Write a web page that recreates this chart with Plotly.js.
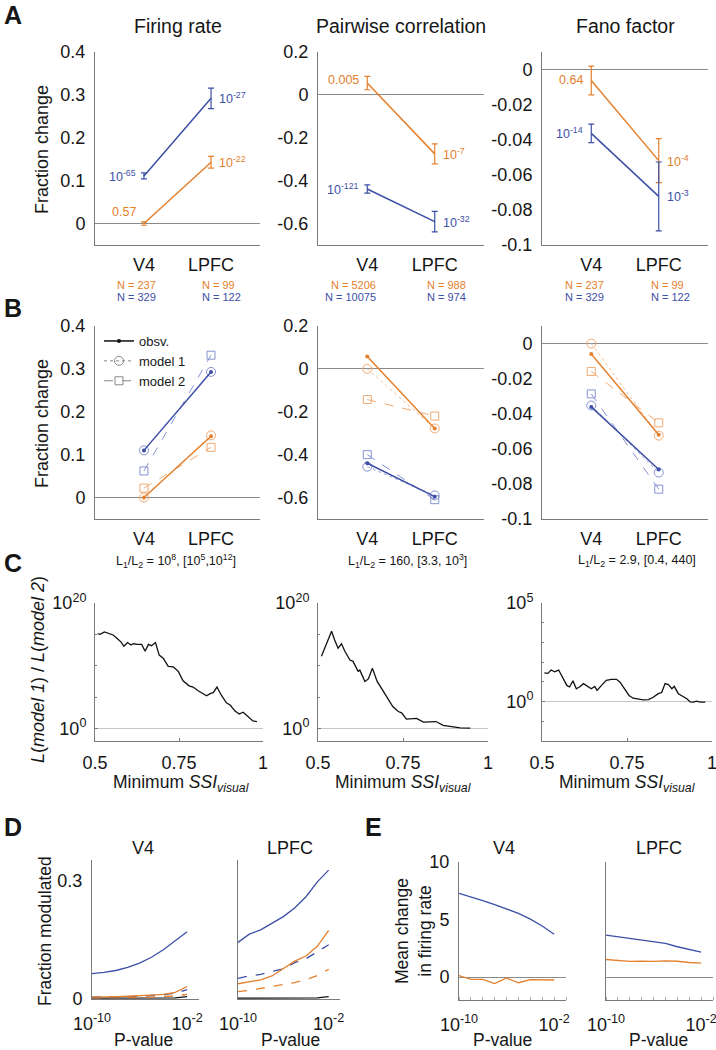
<!DOCTYPE html>
<html>
<head>
<meta charset="utf-8">
<script src="https://cdn.plot.ly/plotly-3.0.1.min.js"></script>
<style>html,body{margin:0;padding:0;background:#fff;}#chart{width:716px;height:1050px;}</style>
</head>
<body>
<div id="chart"></div>
<script>
// ---------------- DATA ----------------
const regions = ['V4', 'LPFC'];

// Panel A: fraction change (mean, s.e.)
const frBlue = [0.111, 0.292], frBlueErr = [0.007, 0.024];
const frOrange = [0.0, 0.143], frOrangeErr = [0.004, 0.0137];
const pcBlue = [-0.439, -0.591], pcBlueErr = [0.019, 0.048];
const pcOrange = [0.055, -0.275], pcOrangeErr = [0.031, 0.0465];
const ffBlue = [-0.0364, -0.0723], ffBlueErr = [0.0053, 0.0196];
const ffOrange = [-0.0062, -0.0519], ffOrangeErr = [0.0082, 0.0125];

// Panel A p-value labels
const frPBlue = ['10<sup>-65</sup>', '10<sup>-27</sup>'];
const frPOrange = ['0.57', '10<sup>-22</sup>'];
const pcPBlue = ['10<sup>-121</sup>', '10<sup>-32</sup>'];
const pcPOrange = ['0.005', '10<sup>-7</sup>'];
const ffPBlue = ['10<sup>-14</sup>', '10<sup>-3</sup>'];
const ffPOrange = ['0.64', '10<sup>-4</sup>'];

// N labels
const frNOrange = ['N = 237', 'N = 99'], frNBlue = ['N = 329', 'N = 122'];
const pcNOrange = ['N = 5206', 'N = 988'], pcNBlue = ['N = 10075', 'N = 974'];
const ffNOrange = ['N = 237', 'N = 99'], ffNBlue = ['N = 329', 'N = 122'];

// Panel B: observed vs model predictions
const frObsBlue = [0.110, 0.293], frObsOrange = [0.0, 0.143];
const frM1Blue = [0.110, 0.293], frM1Orange = [0.0, 0.145];
const frM2Blue = [0.062, 0.332], frM2Orange = [0.022, 0.117];
const pcObsBlue = [-0.440, -0.596], pcObsOrange = [0.058, -0.278];
const pcM1Blue = [-0.456, -0.590], pcM1Orange = [0.0, -0.278];
const pcM2Blue = [-0.400, -0.610], pcM2Orange = [-0.143, -0.220];
const ffObsBlue = [-0.0361, -0.0718], ffObsOrange = [-0.0059, -0.0520];
const ffM1Blue = [-0.0353, -0.0735], ffM1Orange = [0.0, -0.0525];
const ffM2Blue = [-0.0287, -0.0830], ffM2Orange = [-0.0159, -0.0452];

const ratioLabels = ['L<sub>1</sub>/L<sub>2</sub> = 10<sup>8</sup>, [10<sup>5</sup>,10<sup>12</sup>]',
                     'L<sub>1</sub>/L<sub>2</sub> = 160, [3.3, 10<sup>3</sup>]',
                     'L<sub>1</sub>/L<sub>2</sub> = 2.9, [0.4, 440]'];

// Panel C: likelihood ratio (log10) vs minimum SSI
const ssiC1 = [0.508,0.515,0.528,0.540,0.554,0.566,0.577,0.586,0.597,0.607,0.614,0.626,0.639,0.649,0.659,0.668,0.680,0.691,0.703,0.718,0.733,0.748,0.762,0.780,0.792,0.807,0.820,0.832,0.844,0.852,0.863,0.876,0.891,0.903,0.916,0.929,0.941,0.955,0.970,0.982];
const lrC1Log10 = [15.1,15.0,15.4,15.2,14.9,14.35,13.8,13.1,13.7,13.3,13.5,13.4,13.4,12.3,13.4,13.2,13.7,11.7,11.2,9.9,9.8,9.1,7.6,6.8,6.6,6.0,5.6,5.2,5.6,5.7,6.6,5.3,4.1,3.7,2.8,2.3,2.6,1.9,1.2,1.1];
const ssiC2 = [0.510,0.540,0.549,0.559,0.569,0.579,0.594,0.603,0.618,0.623,0.638,0.648,0.660,0.674,0.690,0.707,0.720,0.736,0.746,0.760,0.780,0.790,0.810,0.830,0.847,0.868,0.897,0.918,0.948];
const lrC2Log10 = [11.5,15.5,14.1,12.8,13.5,12.3,10.9,10.7,9.1,9.3,7.5,7.9,9.6,7.5,6.1,4.5,3.5,2.7,2.5,1.5,1.5,1.6,1.0,1.0,1.1,0.5,0.3,0.1,0.05];
const ssiC3 = [0.507,0.517,0.527,0.537,0.549,0.561,0.573,0.581,0.591,0.601,0.610,0.622,0.635,0.645,0.655,0.662,0.675,0.689,0.704,0.719,0.729,0.744,0.756,0.768,0.783,0.798,0.813,0.827,0.842,0.852,0.862,0.872,0.882,0.889,0.901,0.914,0.926,0.936,0.946,0.954,0.966,0.980];
const lrC3Log10 = [1.46,1.43,1.60,1.51,1.60,1.17,0.82,0.74,1.05,0.65,0.74,0.91,0.74,0.65,0.77,0.57,0.82,1.08,1.13,1.13,1.00,0.60,0.31,0.17,0.14,0.09,0.10,0.22,0.40,0.46,0.91,0.86,0.65,0.77,0.40,0.26,0.14,-0.02,-0.03,0.02,-0.03,-0.03];

// Panels D/E: p-value thresholds
const pVals = [1e-10,1e-9,1e-8,1e-7,1e-6,1e-5,1e-4,1e-3,1e-2];
const dV4Blue = [0.063,0.066,0.071,0.079,0.090,0.105,0.124,0.146,0.170];
const dV4Orange = [0.003,0.003,0.004,0.005,0.006,0.008,0.010,0.015,0.030];
const dV4BlueDash = [0.003,0.003,0.004,0.004,0.005,0.007,0.009,0.013,0.022];
const dV4OrangeDash = [0.001,0.001,0.001,0.002,0.002,0.003,0.004,0.006,0.010];
const dV4Black = [0,0,0,0,0,0,0,0.001,0.004];
const dPFCBlue = [0.143,0.164,0.175,0.192,0.209,0.231,0.260,0.298,0.328];
const dPFCOrange = [0.037,0.042,0.047,0.057,0.075,0.095,0.108,0.133,0.174];
const dPFCBlueDash = [0.051,0.057,0.061,0.069,0.075,0.091,0.101,0.118,0.137];
const dPFCOrangeDash = [0.017,0.020,0.025,0.030,0.034,0.040,0.048,0.058,0.074];
const dPFCBlack = [0,0,0,0,0,0,0,0.001,0.004];
const eV4Blue = [7.28,6.99,6.64,6.29,5.90,5.53,5.03,4.44,3.71];
const eV4Orange = [0.12,-0.20,-0.20,-0.58,-0.09,-0.50,-0.23,-0.23,-0.26];
const ePFCBlue = [3.65,3.50,3.36,3.22,3.07,2.92,2.63,2.40,2.16];
const ePFCOrange = [1.52,1.43,1.35,1.37,1.35,1.40,1.37,1.26,1.20];

// tick labels
const frTicks = [0,0.1,0.2,0.3,0.4], frTickText = ['0','0.1','0.2','0.3','0.4'];
const pcTicks = [0.2,0,-0.2,-0.4,-0.6], pcTickText = ['0.2','0','-0.2','-0.4','-0.6'];
const ffTicks = [0,-0.02,-0.04,-0.06,-0.08,-0.1], ffTickText = ['0','-0.02','-0.04','-0.06','-0.08','-0.1'];
const cYTicks12 = [1,1e20], cYText12 = ['10<sup>0</sup>','10<sup>20</sup>'];
const cYTicks3 = [1,1e5], cYText3 = ['10<sup>0</sup>','10<sup>5</sup>'];
const cXTicks = [0.5,0.75,1], cXText = ['0.5','0.75','1'];
const pTicks = [1e-10,1e-2], pTickText = ['10<sup>-10</sup>','10<sup>-2</sup>'];
const dYTicks = [0,0.3], dYText = ['0','0.3'];
const eYTicks = [0,5,10], eYText = ['0','5','10'];

// ---------------- STYLE ----------------
const W = 716, H = 1050;
const BLUE = '#3d4fa6', ORANGE = '#e5802d', LBLUE = '#8592d2', LORANGE = '#f1aa72';
const AX = '#7a7a7a', ZL = '#8a8a8a', TXT = '#161616';
const FONT = 'Liberation Sans, Arial, Helvetica, sans-serif';
const PX = x => x / W, PY = y => 1 - y / H;
const domX = (a, b) => [a / W, b / W];
const domY = (t, b) => [1 - b / H, 1 - t / H];

const traces = [];
function lineErr(xa, ya, y, err, color) {
  traces.push({x: regions, y: y, xaxis: xa, yaxis: ya, type: 'scatter', mode: 'lines',
    line: {color: color, width: 1.5}, showlegend: false, hoverinfo: 'skip',
    error_y: {type: 'data', array: err, visible: true, color: color, thickness: 1.2, width: 3}});
}
lineErr('x','y',frOrange,frOrangeErr,ORANGE); lineErr('x','y',frBlue,frBlueErr,BLUE);
lineErr('x2','y2',pcOrange,pcOrangeErr,ORANGE); lineErr('x2','y2',pcBlue,pcBlueErr,BLUE);
lineErr('x3','y3',ffOrange,ffOrangeErr,ORANGE); lineErr('x3','y3',ffBlue,ffBlueErr,BLUE);

function modelSet(xa, ya, obs, m1, m2, color, light) {
  traces.push({x: regions, y: m2, xaxis: xa, yaxis: ya, mode: 'lines+markers', showlegend: false, hoverinfo: 'skip',
    line: {color: light, width: 1, dash: 'dash'}, marker: {symbol: 'square-open', size: 8, color: light, line: {width: 1}}});
  traces.push({x: regions, y: m1, xaxis: xa, yaxis: ya, mode: 'lines+markers', showlegend: false, hoverinfo: 'skip',
    line: {color: light, width: 0.8, dash: 'dot'}, marker: {symbol: 'circle-open', size: 9, color: light, line: {width: 1}}});
  traces.push({x: regions, y: obs, xaxis: xa, yaxis: ya, mode: 'lines+markers', showlegend: false, hoverinfo: 'skip',
    line: {color: color, width: 1.5}, marker: {symbol: 'circle', size: 4, color: color}});
}
modelSet('x4','y4',frObsOrange,frM1Orange,frM2Orange,ORANGE,LORANGE);
modelSet('x4','y4',frObsBlue,frM1Blue,frM2Blue,BLUE,LBLUE);
modelSet('x5','y5',pcObsOrange,pcM1Orange,pcM2Orange,ORANGE,LORANGE);
modelSet('x5','y5',pcObsBlue,pcM1Blue,pcM2Blue,BLUE,LBLUE);
modelSet('x6','y6',ffObsOrange,ffM1Orange,ffM2Orange,ORANGE,LORANGE);
modelSet('x6','y6',ffObsBlue,ffM1Blue,ffM2Blue,BLUE,LBLUE);

// legend entries for panel B
traces.push({x:[null], y:[null], xaxis:'x4', yaxis:'y4', name:'obsv.', mode:'lines+markers',
  line:{color:'#111', width:1.5}, marker:{size:4, color:'#111'}});
traces.push({x:[null], y:[null], xaxis:'x4', yaxis:'y4', name:'model 1', mode:'lines+markers',
  line:{color:'#888', width:1, dash:'dot'}, marker:{symbol:'circle-open', size:9, color:'#888'}});
traces.push({x:[null], y:[null], xaxis:'x4', yaxis:'y4', name:'model 2', mode:'lines+markers',
  line:{color:'#888', width:1, dash:'dash'}, marker:{symbol:'square-open', size:8, color:'#888'}});

function curve(xa, ya, x, y, color, dash, w) {
  traces.push({x: x, y: y, xaxis: xa, yaxis: ya, mode: 'lines', showlegend: false, hoverinfo: 'skip',
    line: {color: color, width: w || 1.3, dash: dash || 'solid'}});
}
curve('x7','y7',ssiC1,lrC1Log10.map(v => Math.pow(10, v)),'#111');
curve('x8','y8',ssiC2,lrC2Log10.map(v => Math.pow(10, v)),'#111');
curve('x9','y9',ssiC3,lrC3Log10.map(v => Math.pow(10, v)),'#111');

curve('x10','y10',pVals,dV4Black,'#111');
curve('x10','y10',pVals,dV4OrangeDash,ORANGE,'dash');
curve('x10','y10',pVals,dV4BlueDash,BLUE,'dash');
curve('x10','y10',pVals,dV4Orange,ORANGE);
curve('x10','y10',pVals,dV4Blue,BLUE);
curve('x11','y11',pVals,dPFCBlack,'#111');
curve('x11','y11',pVals,dPFCOrangeDash,ORANGE,'dash');
curve('x11','y11',pVals,dPFCBlueDash,BLUE,'dash');
curve('x11','y11',pVals,dPFCOrange,ORANGE);
curve('x11','y11',pVals,dPFCBlue,BLUE);

curve('x12','y12',pVals,eV4Orange,ORANGE);
curve('x12','y12',pVals,eV4Blue,BLUE);
curve('x13','y13',pVals,ePFCOrange,ORANGE);
curve('x13','y13',pVals,ePFCBlue,BLUE);

// ---------------- AXES ----------------
const baseAx = {showline: true, linecolor: AX, linewidth: 1, ticks: '', showgrid: false, zeroline: false,
  tickfont: {size: 18, color: TXT, family: FONT}, fixedrange: true, ticklabeloverflow: 'allow'};
const layout = {
  width: W, height: H, margin: {l: 0, r: 0, t: 0, b: 0}, paper_bgcolor: '#fff', plot_bgcolor: 'rgba(0,0,0,0)',
  font: {family: FONT, color: TXT},
  showlegend: true,
  legend: {x: PX(99), y: PY(326), xanchor: 'left', yanchor: 'top', bgcolor: 'rgba(0,0,0,0)',
    font: {size: 13, color: TXT}, itemwidth: 30, tracegroupgap: 0},
  annotations: [], shapes: []
};
function catX(name, anchor, a, b) {
  layout[name] = Object.assign({}, baseAx, {domain: domX(a, b), anchor: anchor, type: 'category',
    categoryorder: 'array', categoryarray: regions, range: [-0.73, 1.73], ticklabelstandoff: 3});
}
function linY(name, anchor, t, b, range, tv, tt, extra) {
  layout[name] = Object.assign({}, baseAx, {domain: domY(t, b), anchor: anchor, range: range,
    tickmode: 'array', tickvals: tv, ticktext: tt, ticklabelstandoff: 5}, extra || {});
}
const zl = {zeroline: true, zerolinecolor: ZL, zerolinewidth: 1};
catX('xaxis','y',95,260); linY('yaxis','x',52,245,[-0.05,0.4],frTicks,frTickText,zl);
catX('xaxis2','y2',318,484); linY('yaxis2','x2',52,245,[-0.7,0.2],pcTicks,pcTickText,zl);
catX('xaxis3','y3',542,708); linY('yaxis3','x3',52,245,[-0.1,0.01],ffTicks,ffTickText,zl);
catX('xaxis4','y4',95,260); linY('yaxis4','x4',326,519,[-0.05,0.4],frTicks,frTickText,zl);
catX('xaxis5','y5',318,484); linY('yaxis5','x5',326,519,[-0.7,0.2],pcTicks,pcTickText,zl);
catX('xaxis6','y6',542,708); linY('yaxis6','x6',326,519,[-0.1,0.01],ffTicks,ffTickText,zl);

function cAxes(n, a, b, yr, tv, tt, mdt) {
  layout['xaxis' + n] = Object.assign({}, baseAx, {domain: domX(a, b), anchor: 'y' + n, range: [0.5, 1],
    tickmode: 'array', tickvals: cXTicks, ticktext: cXText, ticks: 'inside', ticklen: 3, tickcolor: AX, ticklabelstandoff: 5});
  layout['yaxis' + n] = Object.assign({}, baseAx, {domain: domY(603, 741), anchor: 'x' + n, type: 'log', range: yr,
    tickmode: 'array', tickvals: tv, ticktext: tt, ticks: 'inside', ticklen: 3, tickcolor: AX, ticklabelstandoff: 4,
    minor: {ticks: 'inside', ticklen: 2, tickcolor: AX, dtick: mdt}});
}
cAxes(7, 95, 263, [-2, 20], cYTicks12, cYText12, 5);
cAxes(8, 318, 488, [-2, 20], cYTicks12, cYText12, 5);
cAxes(9, 542, 712, [-2, 5], cYTicks3, cYText3, 1);

function pAxes(n, a, b, t, bt, yr, tv, tt, showY, minorTicks, extra) {
  layout['xaxis' + n] = Object.assign({}, baseAx, {domain: domX(a, b), anchor: 'y' + n, type: 'log', range: [-10, -1],
    tickmode: 'array', tickvals: pTicks, ticktext: pTickText, ticklabelstandoff: 8},
    minorTicks ? {minor: {ticks: 'inside', ticklen: 3, tickcolor: '#aaa', dtick: 1}} : {});
  layout['yaxis' + n] = Object.assign({}, baseAx, {domain: domY(t, bt), anchor: 'x' + n, range: yr,
    tickmode: 'array', tickvals: tv, ticktext: tt, showticklabels: showY, ticklabelstandoff: 5}, extra || {});
}
pAxes(10, 92, 199, 860, 999, [-0.002, 0.354], dYTicks, dYText, true, false);
pAxes(11, 238, 340, 860, 999, [-0.002, 0.354], dYTicks, dYText, false, false);
pAxes(12, 459, 566, 862, 1000, [-2, 10], eYTicks, eYText, true, true, zl);
pAxes(13, 606, 713, 862, 1000, [-2, 10], eYTicks, eYText, false, true, zl);

// reference line at ratio = 1 in panel C
['7','8','9'].forEach(n => layout.shapes.push({type: 'line', xref: 'x' + n + ' domain', yref: 'y' + n,
  x0: 0, x1: 1, y0: 1, y1: 1, line: {color: '#c4c4c4', width: 1}, layer: 'below'}));

// ---------------- ANNOTATIONS ----------------
const ann = layout.annotations;
function txt(text, x, y, size, opts) {
  ann.push(Object.assign({text: text, x: PX(x), y: PY(y), xref: 'paper', yref: 'paper', showarrow: false,
    xanchor: 'center', yanchor: 'middle', font: {size: size, color: TXT, family: FONT}}, opts || {}));
}
// panel letters
txt('<b>A</b>', 2, 15, 25, {xanchor: 'left'});
txt('<b>B</b>', 2, 308, 25, {xanchor: 'left'});
txt('<b>C</b>', 2, 563, 25, {xanchor: 'left'});
txt('<b>D</b>', 2, 827, 25, {xanchor: 'left'});
txt('<b>E</b>', 363, 827, 25, {xanchor: 'left'});
// titles
txt('Firing rate', 177.5, 26, 19.5);
txt('Pairwise correlation', 401, 26, 19.5);
txt('Fano factor', 625, 26, 19.5);
txt('V4', 143, 848, 18); txt('LPFC', 290, 848, 18);
txt('V4', 504, 848, 18); txt('LPFC', 658.5, 848, 18);
// y labels
txt('Fraction change', 42, 150, 18, {textangle: -90});
txt('Fraction change', 42, 424, 18, {textangle: -90});
txt('<i>L</i>(<i>model 1</i>) / <i>L</i>(<i>model 2</i>)', 38, 670, 18, {textangle: -90});
txt('Fraction modulated', 45, 931, 17.5, {textangle: -90});
txt('Mean change<br>in firing rate', 413, 931, 17.5, {textangle: -90});
// x labels
const ssiLabel = 'Minimum <i>SSI</i><sub><i>visual</i></sub>';
txt(ssiLabel, 181, 783, 17.5); txt(ssiLabel, 403, 783, 17.5); txt(ssiLabel, 627, 783, 17.5);
txt('P-value', 143, 1040, 17.5); txt('P-value', 290, 1040, 17.5);
txt('P-value', 502, 1040, 17.5); txt('P-value', 658, 1040, 17.5);
// N labels
function nl(t, x, y, color, anchor) { txt(t, x, y, 11, {xanchor: anchor, font: {size: 11, color: color, family: FONT}}); }
nl(frNOrange[0], 115, 285, ORANGE, 'left'); nl(frNOrange[1], 200, 285, ORANGE, 'left');
nl(frNBlue[0], 115, 297, BLUE, 'left'); nl(frNBlue[1], 200, 297, BLUE, 'left');
nl(pcNOrange[0], 378, 285, ORANGE, 'right'); nl(pcNOrange[1], 425, 285, ORANGE, 'left');
nl(pcNBlue[0], 378, 297, BLUE, 'right'); nl(pcNBlue[1], 425, 297, BLUE, 'left');
nl(ffNOrange[0], 563, 285, ORANGE, 'left'); nl(ffNOrange[1], 649, 285, ORANGE, 'left');
nl(ffNBlue[0], 563, 297, BLUE, 'left'); nl(ffNBlue[1], 649, 297, BLUE, 'left');
// likelihood ratio labels
txt(ratioLabels[0], 176, 561, 12.5); txt(ratioLabels[1], 408, 561, 12.5); txt(ratioLabels[2], 637, 561, 12.5);
// p-value labels next to points (panel A)
function pl(xa, ya, labels, vals, color, y0shift) {
  [0, 1].forEach(i => ann.push({text: labels[i], x: regions[i], y: vals[i], xref: xa, yref: ya, showarrow: false,
    xanchor: i === 0 ? 'right' : 'left', yanchor: 'middle', xshift: i === 0 ? -6 : 6, yshift: i === 0 ? (y0shift || 0) : 0,
    font: {size: 12.5, color: color, family: FONT}}));
}
pl('x','y',frPBlue,frBlue,BLUE); pl('x','y',frPOrange,frOrange,ORANGE,12);
pl('x2','y2',pcPBlue,pcBlue,BLUE); pl('x2','y2',pcPOrange,pcOrange,ORANGE,3);
pl('x3','y3',ffPBlue,ffBlue,BLUE); pl('x3','y3',ffPOrange,ffOrange,ORANGE);

Plotly.newPlot('chart', traces, layout, {staticPlot: true, displayModeBar: false});
</script>
</body>
</html>
